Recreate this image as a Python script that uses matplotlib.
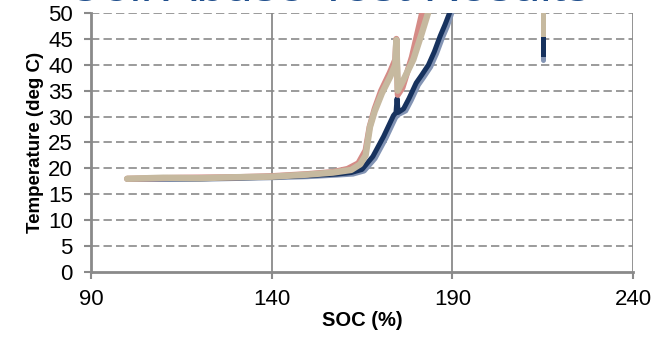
import numpy as np
import matplotlib
matplotlib.use('Agg')
from matplotlib import pyplot as plt

plt.rcParams['font.family'] = ['Liberation Sans', 'DejaVu Sans']

# SOC (%) vs temperature (deg C)
pink_soc = [100, 115, 130, 140, 150, 157, 161, 164, 166.0, 167.1, 168.5, 170.3, 172.7, 174.2, 174.5, 174.9, 176.2, 178.8, 181.8]
pink_temp = [18.0, 18.2, 18.3, 18.5, 18.9, 19.3, 19.9, 21.0, 23.5, 28.0, 31.5, 35.0, 38.5, 41.0, 45.0, 34.2, 35.6, 41.5, 50.5]

tan_soc = [100, 110, 120, 130, 140, 150, 157, 162, 164.5, 166, 167.2, 168.5, 170.5, 172.8, 174.2, 174.5, 174.9, 176.4, 179.2, 181.5, 183.5]
tan_temp = [18.0, 18.2, 18.1, 18.3, 18.4, 18.8, 19.2, 19.7, 20.8, 22.5, 28.0, 31.0, 34.5, 37.7, 40.0, 44.8, 35.0, 37.0, 41.0, 46.0, 50.5]

navy_soc = [100, 120, 140, 150, 158, 162, 165, 168, 171, 173.7, 174.4, 174.7, 175.0, 176.5, 178, 180, 181.5, 183.4, 185, 186.6, 188, 189.5]
navy_temp = [18.0, 18.0, 18.3, 18.6, 18.9, 19.2, 19.8, 22.3, 26.2, 30.2, 30.8, 33.5, 30.8, 31.5, 33.5, 36.5, 38.0, 40.0, 42.5, 45.5, 47.8, 50.5]

shade_soc = [100, 120, 140, 150, 158, 162.5, 165.6, 168.6, 171.6, 174.3, 175.1, 177.1, 178.6, 180.6, 182.1, 184.0, 185.6, 187.2, 188.6, 190.1]
shade_temp = [17.9, 17.9, 18.2, 18.4, 18.7, 18.9, 19.5, 21.9, 25.8, 29.8, 30.4, 31.1, 33.1, 36.1, 37.6, 39.6, 42.1, 45.1, 47.4, 50.5]

# short stub at the right edge
stub_soc = 215
stub_tan = [51.0, 46.0]
stub_navy = [46.3, 42.0]
stub_shade = [42.5, 41.0]

fig = plt.figure(figsize=(6.56, 3.42), dpi=100)
ax = fig.add_axes([0.1387, 0.2047, 0.8263, 0.7573])

gray = '#8a8a8a'
for v in [140, 190, 240]:
    ax.axvline(v, color=gray, lw=1.3, zorder=1)
for h in range(5, 51, 5):
    ax.axhline(h, color=gray, lw=1.2, ls=(0, (5, 2.5)), zorder=1)

ax.plot(shade_soc, shade_temp, color='#8394b4', lw=3.6, solid_capstyle='round', zorder=2)
ax.plot(navy_soc, navy_temp, color='#17325e', lw=3.6, solid_capstyle='round', zorder=3)
ax.plot(pink_soc, pink_temp, color='#d58b86', lw=4.4, solid_capstyle='round', zorder=4)
ax.plot(tan_soc, tan_temp, color='#c6b99f', lw=4.6, solid_capstyle='round', zorder=5)

ax.plot([stub_soc, stub_soc], stub_shade, color='#8394b4', lw=3.6, solid_capstyle='round', zorder=2)
ax.plot([stub_soc, stub_soc], stub_navy, color='#17325e', lw=3.6, zorder=3)
ax.plot([stub_soc, stub_soc], stub_tan, color='#c6b99f', lw=3.6, zorder=5)

ax.set_xlim(90, 240)
ax.set_ylim(0, 50)
ax.set_xticks([90, 140, 190, 240])
ax.set_yticks(range(0, 51, 5))

for s in ['top', 'right']:
    ax.spines[s].set_visible(False)
for s in ['left', 'bottom']:
    ax.spines[s].set_color(gray)
    ax.spines[s].set_linewidth(2)
ax.tick_params(axis='both', colors=gray, width=1.5, length=5, labelsize=16,
               labelcolor='black')
ax.tick_params(axis='x', pad=7)
ax.tick_params(axis='y', pad=8)

ax.set_xlabel('SOC (%)', fontsize=14.5, fontweight='bold', labelpad=1)
ax.set_ylabel('Temperature (deg C)', fontsize=13.5, fontweight='bold', labelpad=3)

# slide title, mostly cut off at the top of the crop
fig.text(0.5, 0.998, 'Cell Abuse Test Results', ha='center', va='baseline',
         fontsize=36, color='#1f4e8c')

fig.savefig('out.png', dpi=100)
